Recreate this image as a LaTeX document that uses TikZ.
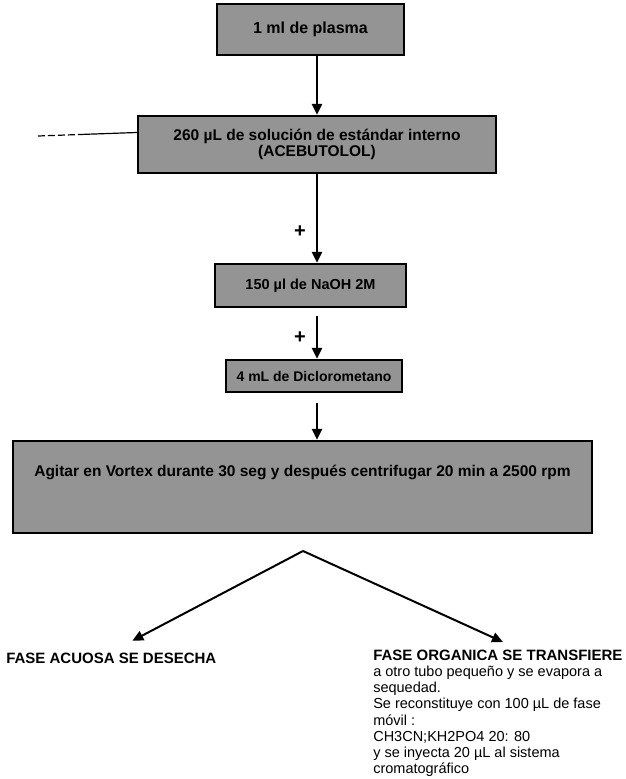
\documentclass[tikz,border=0pt]{standalone}
\usepackage{fontspec}
\setmainfont{Liberation Sans}
\usetikzlibrary{arrows.meta,positioning}

\begin{document}
\begin{tikzpicture}[x=1pt,y=-1pt,->,>={Stealth[length=11pt,width=10pt,inset=0pt]},line width=2.6pt,
        paso/.style={draw,line width=2.4pt,fill=black!42,inner sep=0pt,align=center,
            font=\bfseries\fontsize{15}{16}\selectfont},
        fase/.style={inner sep=0pt,align=left,font=\fontsize{14.5}{16.2}\selectfont},
        mas/.style={inner sep=0pt,font=\bfseries\fontsize{20}{20}\selectfont}]
    \useasboundingbox (0,0) rectangle (625,779);

    \coordinate (eje) at (317,0);
    \node   [paso,minimum width=187pt,minimum height=51pt,font=\bfseries\fontsize{16}{17}\selectfont]   (1) at (310.5,29.5)  {1 ml de plasma};
    \node   [paso,minimum width=358pt,minimum height=57pt,font=\bfseries\fontsize{15.5}{16}\selectfont] (2) at (317,144.5)   {260 µL de solución de estándar interno\\(ACEBUTOLOL)};
    \node   [paso,minimum width=191pt,minimum height=43pt,font=\bfseries\fontsize{14.5}{16}\selectfont] (3) at (310.5,285.5)  {150 µl de NaOH 2M};
    \node   [paso,minimum width=176pt,minimum height=32pt,font=\bfseries\fontsize{14}{16}\selectfont]   (4) at (314,376)     {4 mL de Diclorometano};
    \node   [paso,minimum width=579pt,minimum height=92pt,text height=11pt,text depth=33pt,inner ysep=24pt,
             font=\bfseries\fontsize{15.5}{16}\selectfont]  (5) at (302.5,487)  {Agitar en Vortex durante 30 seg y después centrifugar 20 min a 2500 rpm};

    \node   [fase,anchor=west,font=\bfseries\fontsize{15}{17}\selectfont] (acuosa) at (5,658) {FASE ACUOSA SE DESECHA};
    \node   [fase,anchor=north west] (organica) at (372,648.5)
            {{\bfseries\fontsize{15}{16.2}\selectfont FASE ORGANICA SE TRANSFIERE}\\
             a otro tubo pequeño y se evapora a\\
             sequedad.\\
             Se reconstituye con 100 µL de fase\\
             móvil :\\
             CH3CN;KH2PO4 20: 80\\
             y se inyecta 20 µL al sistema\\
             cromatográfico};

    \path   (1.south -| eje) edge (2.north -| eje)
            (2.south -| eje) edge node [mas,left=10pt,pos=.65] (mas1) {+} (3.north -| eje)
            (3.south -| eje) edge [shorten <=8pt] node [mas,left=10pt,pos=.58] (mas2) {+} (4.north -| eje)
            (4.south -| eje) edge [shorten <=10pt] (5.north -| eje);

    % linea de la izquierda
    \coordinate (raya) at (38,136);
    \coordinate (medio) at (80,134.5);
    \draw   [-,line width=1.2pt,dash pattern=on 7pt off 3pt] (raya) -- (medio);
    \draw   [-,line width=1.2pt] (medio) -- ([yshift=12pt]2.west);

    % separacion de fases
    \coordinate (vert) at (303,551);
    \draw   [line width=2pt] (vert) -- ([xshift=21pt,yshift=10.6pt]acuosa.north);
    \draw   [line width=2pt] (vert) -- ([xshift=131pt,yshift=6.5pt]organica.north west);
\end{tikzpicture}
\end{document}
